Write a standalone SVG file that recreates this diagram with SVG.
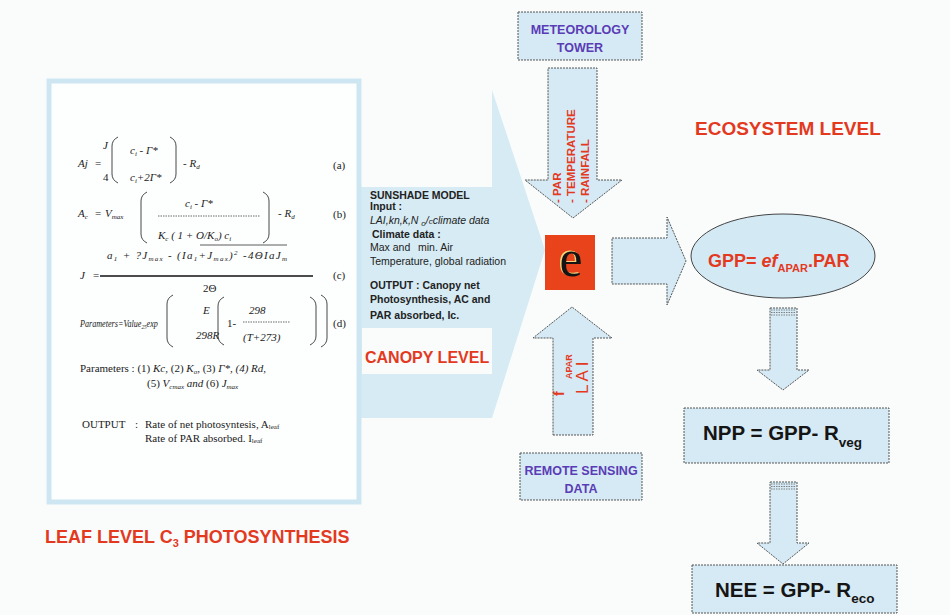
<svg xmlns="http://www.w3.org/2000/svg" width="950" height="615" viewBox="0 0 950 615">
<style>
.bg{fill:#fafcfc}
.blk{fill:#d5eaf4;stroke:#555;stroke-width:1;stroke-dasharray:2 1}
.eq{font-family:"Liberation Serif","Times New Roman",serif;font-size:11px;fill:#222}
.it{font-style:italic}
.br{fill:none;stroke:#333;stroke-width:0.9}
.sun{font-family:"Liberation Sans",Arial,sans-serif;font-size:10.5px;fill:#222}
.b{font-weight:bold}
.red{font-family:"Liberation Sans",Arial,sans-serif;font-weight:bold;fill:#e3391f}
.pur{font-family:"Liberation Sans",Arial,sans-serif;font-weight:bold;fill:#5a3cb6;font-size:12.5px}
.blkt{font-family:"Liberation Sans",Arial,sans-serif;font-weight:bold;fill:#151515;font-size:20.5px}
.hat{stroke:#666;stroke-width:0.8;stroke-dasharray:1.5 1}
</style>
<rect class="bg" x="0" y="0" width="950" height="615"/>

<!-- Canopy level big arrow -->
<g id="canopy">
  <polygon points="361,187 492,187 492,90 545,250 492,418 361,418" fill="#d6ebf4"/>
  <rect x="362" y="328" width="130" height="46" fill="#fafcfc"/>
  <text class="sun b" x="370" y="199">SUNSHADE MODEL</text>
  <text class="sun b" x="370" y="210">Input :</text>
  <text class="sun it" x="370" y="224">LAI,kn,k,N <tspan font-size="8" dy="2">o</tspan><tspan dy="-2">/</tspan><tspan font-size="8">c</tspan>climate data</text>
  <text class="sun b" x="372" y="238">Climate data :</text>
  <text class="sun" x="370" y="251">Max and</text>
  <text class="sun" x="418" y="251">min. Air</text>
  <text class="sun" x="370" y="265">Temperature, global radiation</text>
  <text class="sun b" x="370" y="289">OUTPUT : Canopy net</text>
  <text class="sun b" x="370" y="303">Photosynthesis, AC and</text>
  <text class="sun b" x="370" y="319">PAR absorbed, Ic.</text>
  <text class="red" x="365" y="363" font-size="16">CANOPY LEVEL</text>
</g>

<!-- Leaf level box -->
<g id="leaf">
  <rect x="49" y="81" width="310" height="421" fill="#fdfefe" stroke="#cde6f1" stroke-width="5"/>
  <!-- (a) -->
  <text class="eq it" x="78" y="167">Aj</text>
  <text class="eq" x="95" y="167">=</text>
  <text class="eq it" x="103" y="149">J</text>
  <text class="eq" x="103" y="181">4</text>
  <path class="br" d="M118,137 Q112,140 112,146 L112,174 Q112,180 118,183"/>
  <text class="eq it" x="130" y="154">c<tspan font-size="7" dy="2">i</tspan><tspan dy="-2"> - Γ*</tspan></text>
  <text class="eq it" x="130" y="181">c<tspan font-size="7" dy="2">i</tspan><tspan dy="-2">+2Γ*</tspan></text>
  <path class="br" d="M170,137 Q176,140 176,146 L176,174 Q176,180 170,183"/>
  <text class="eq it" x="183" y="167">- R<tspan font-size="7" dy="2">d</tspan></text>
  <text class="eq" x="333" y="169">(a)</text>
  <!-- (b) -->
  <text class="eq it" x="78" y="217">A<tspan font-size="7" dy="2">c</tspan></text>
  <text class="eq" x="95" y="217">=</text>
  <text class="eq it" x="105" y="217">V<tspan font-size="7" dy="2">max</tspan></text>
  <path class="br" d="M147,192 Q141,195 141,201 L141,234 Q141,240 147,243"/>
  <text class="eq it" x="185" y="207">c<tspan font-size="7" dy="2">i</tspan><tspan dy="-2"> - Γ*</tspan></text>
  <line x1="158" y1="216" x2="260" y2="216" stroke="#444" stroke-width="0.8" stroke-dasharray="1.5 1"/>
  <text class="eq it" x="158" y="239">K<tspan font-size="7" dy="2">c</tspan><tspan dy="-2"> ( 1 + O/K</tspan><tspan font-size="7" dy="2">o</tspan><tspan dy="-2">) c</tspan><tspan font-size="7" dy="2">i</tspan></text>
  <path class="br" d="M263,192 Q269,195 269,201 L269,234 Q269,240 263,243"/>
  <text class="eq it" x="278" y="217">- R<tspan font-size="7" dy="2">d</tspan></text>
  <text class="eq" x="333" y="218">(b)</text>
  <!-- (c) -->
  <line x1="200" y1="245" x2="287" y2="245" stroke="#333" stroke-width="0.8"/>
  <text class="eq it" x="107" y="259" font-size="10.5" textLength="180" lengthAdjust="spacing">a<tspan font-size="7" dy="2">1</tspan><tspan dy="-2"> + ?J</tspan><tspan font-size="7" dy="2">max</tspan><tspan dy="-2"> - (Ia</tspan><tspan font-size="7" dy="2">1</tspan><tspan dy="-2">+J</tspan><tspan font-size="7" dy="2">max</tspan><tspan dy="-2">)</tspan><tspan font-size="7" dy="-4">2</tspan><tspan dy="4"> -4ΘIaJ</tspan><tspan font-size="7" dy="2">m</tspan></text>
  <text class="eq it" x="80" y="279">J</text>
  <text class="eq" x="93" y="279">=</text>
  <line x1="100" y1="276" x2="313" y2="276" stroke="#111" stroke-width="1.5"/>
  <text class="eq" x="333" y="279">(c)</text>
  <text class="eq" x="203" y="292">2Θ</text>
  <!-- (d) -->
  <text class="eq it" font-size="10.5" transform="translate(80,327) scale(0.74,1)">Parameters=Value<tspan font-size="7" dy="2">25</tspan><tspan dy="-2">exp</tspan></text>
  <path class="br" d="M173,295 Q167,298 167,304 L167,338 Q167,344 173,347"/>
  <text class="eq it" x="203" y="314">E</text>
  <text class="eq it" x="196" y="339">298R</text>
  <path class="br" d="M224,297 Q218,300 218,306 L218,336 Q218,342 224,345"/>
  <text class="eq" x="227" y="327">1-</text>
  <text class="eq it" x="249" y="314">298</text>
  <line x1="243" y1="322" x2="290" y2="322" stroke="#444" stroke-width="0.8" stroke-dasharray="1.5 1"/>
  <text class="eq it" x="243" y="341">(T+273)</text>
  <path class="br" d="M310,297 Q316,300 316,306 L316,336 Q316,342 310,345"/>
  <path class="br" d="M321,295 Q327,298 327,304 L327,338 Q327,344 321,347"/>
  <text class="eq" x="333" y="327">(d)</text>
  <!-- parameters -->
  <text class="eq" x="80" y="372">Parameters : (1) <tspan class="it">Kc</tspan>, (2) <tspan class="it">K<tspan font-size="7" dy="2">o</tspan></tspan><tspan dy="-2">, (3) </tspan><tspan class="it">Γ*, (4) Rd,</tspan></text>
  <text class="eq" x="147" y="387">(5) <tspan class="it">V<tspan font-size="7" dy="2">cmax</tspan><tspan dy="-2"> and </tspan></tspan>(6) <tspan class="it">J<tspan font-size="7" dy="2">max</tspan></tspan></text>
  <!-- output -->
  <text class="eq" x="82" y="428" font-size="11.5">OUTPUT</text>
  <text class="eq" x="135" y="428" font-size="11.5">:</text>
  <text class="eq" x="145" y="428" font-size="11.5">Rate of net photosyntesis, A<tspan font-size="7" dy="1">leaf</tspan></text>
  <text class="eq" x="145" y="442" font-size="11.5">Rate of PAR absorbed. I<tspan font-size="7" dy="1">leaf</tspan></text>
</g>

<g id="leaf-title">
  <text class="red" x="45" y="543" font-size="18">LEAF LEVEL C<tspan font-size="11" dy="4">3</tspan><tspan dy="-4"> PHOTOSYNTHESIS</tspan></text>
</g>

<g id="meteorology">
  <rect class="blk" x="518" y="12" width="124" height="48"/>
  <text class="pur" x="580" y="34" text-anchor="middle">METEOROLOGY</text>
  <text class="pur" x="580" y="52" text-anchor="middle">TOWER</text>
</g>

<g id="remote-sensing">
  <rect class="blk" x="520" y="453" width="122" height="47"/>
  <text class="pur" x="581" y="475" text-anchor="middle" font-size="12">REMOTE SENSING</text>
  <text class="pur" x="581" y="493" text-anchor="middle" font-size="12">DATA</text>
</g>

<g id="e-node">
  <rect x="545" y="235" width="50" height="55" fill="#e9431c"/>
  <text x="569.5" y="275" text-anchor="middle" font-family="Liberation Serif, serif" font-size="52" fill="#f3d27a">e</text>
  <text x="571" y="276" text-anchor="middle" font-family="Liberation Serif, serif" font-size="52" fill="#141414">e</text>
</g>

<g id="ecosystem-label">
  <text class="red" x="695" y="135" font-size="19">ECOSYSTEM LEVEL</text>
</g>

<g id="gpp">
  <ellipse cx="783" cy="256" rx="92" ry="42" fill="#d3e9f4" stroke="#444" stroke-width="1"/>
  <text class="red" x="708" y="267" font-size="18">GPP= <tspan font-style="italic">ef</tspan><tspan font-size="11" dy="5">APAR</tspan><tspan dy="-5">.PAR</tspan></text>
</g>

<g id="npp">
  <rect class="blk" x="684" y="408" width="205" height="55"/>
  <text class="blkt" x="703" y="440">NPP = GPP- R<tspan font-size="13.5" dy="7">veg</tspan></text>
</g>

<g id="nee">
  <rect class="blk" x="692" y="565" width="205" height="48"/>
  <text class="blkt" x="715" y="597">NEE = GPP- R<tspan font-size="13.5" dy="6">eco</tspan></text>
</g>

<g id="connectors">
  <polygon class="blk" points="548,68 597,68 597,180 622,180 573,218 525,180 548,180"/>
  <text class="red" font-size="11.5" fill="#e8432a" transform="translate(561,203) rotate(-90)">- PAR</text>
  <text class="red" font-size="11.5" fill="#e8432a" transform="translate(575,203) rotate(-90)">- TEMPERATURE</text>
  <text class="red" font-size="11.5" fill="#e8432a" transform="translate(589,203) rotate(-90)">- RAINFALL</text>

  <polygon class="blk" points="553,435 593,435 593,338 612,338 572,307 533,338 553,338"/>
  <text class="red" font-size="14" transform="translate(564,396) rotate(-90)">f</text>
  <text class="red" font-size="9" transform="translate(572,379) rotate(-90)">APAR</text>
  <text font-family="Liberation Sans, Arial, sans-serif" font-size="17" fill="#e3391f" transform="translate(588,394) rotate(-90)">L A I</text>

  <polygon class="blk" points="612,238 667,238 667,217 686,261 667,305 667,284 612,284"/>

  <polygon class="blk" points="770,308 797,308 797,370 809,370 783,390 757,370 770,370"/>
  <line class="hat" x1="771" y1="310" x2="796" y2="310"/>
  <line class="hat" x1="771" y1="312.5" x2="796" y2="312.5"/>
  <line class="hat" x1="771" y1="315" x2="796" y2="315"/>

  <polygon class="blk" points="770,482 797,482 797,543 809,543 783,564 757,543 770,543"/>
  <line class="hat" x1="771" y1="484" x2="796" y2="484"/>
  <line class="hat" x1="771" y1="486.5" x2="796" y2="486.5"/>
  <line class="hat" x1="771" y1="489" x2="796" y2="489"/>
</g>
</svg>
